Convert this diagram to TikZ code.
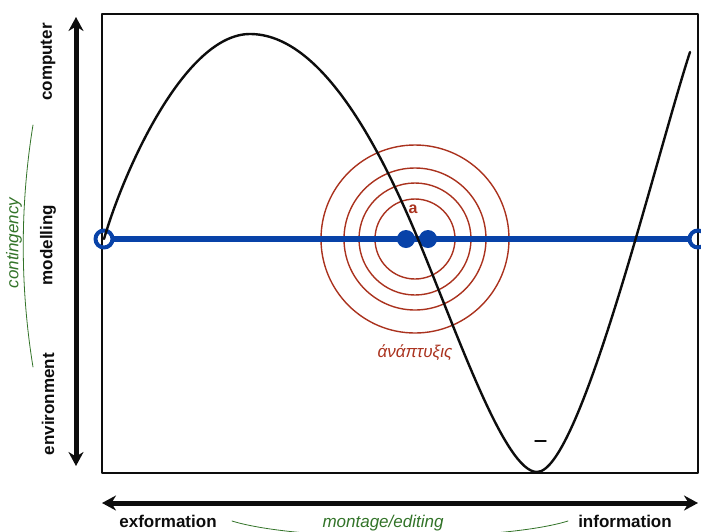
\documentclass[tikz,border=0pt]{standalone}
\usepackage{fontspec}
\setmainfont{Liberation Sans}
\usetikzlibrary{arrows.meta}
\definecolor{SketchInk}{gray}{0.05}
\definecolor{SketchTrack}{RGB}{8,66,168}
\definecolor{SketchRing}{RGB}{170,50,30}
\definecolor{SketchNote}{RGB}{50,115,40}
\tikzset{
    sketch/diagram/.style={
        x=1pt, y=-1pt,
        line cap=round,
        line join=round,
        every node/.style={inner sep=0pt, outer sep=0pt}
    },
    sketch/frame/.style={draw=SketchInk, line width=2pt, line cap=butt},
    sketch/curve/.style={draw=SketchInk, line width=2.4pt},
    sketch/axis/.style={
        draw=SketchInk, line width=5pt, line cap=butt,
        {Stealth[length=14pt, width=15pt]}-{Stealth[length=14pt, width=15pt]}
    },
    sketch/track/.style={draw=SketchTrack, line width=5.5pt, line cap=butt},
    sketch/end/.style={circle, draw=SketchTrack, line width=4pt, minimum size=17pt},
    sketch/dot/.style={circle, fill=SketchTrack, draw=none, minimum size=18pt},
    sketch/ring/.style={draw=SketchRing, line width=1.4pt},
    sketch/note/.style={draw=SketchNote, line width=0.8pt},
    sketch/label/.style={font=\fontsize{17}{20}\selectfont\bfseries, text=SketchInk},
    sketch/remark/.style={font=\fontsize{17}{20}\selectfont\itshape, text=SketchNote},
    sketch/tag/.style={text=SketchRing}
}

\begin{document}
\begin{tikzpicture}[sketch/diagram]
    \useasboundingbox (0,0) rectangle (701,531);
    % frame of the plot
    \draw[sketch/frame] (102,14) rectangle (698,473);
    % axes outside the frame
    \coordinate (axisN) at (76,17);
    \coordinate (axisS) at (76,466);
    \coordinate (axisW) at (102,503);
    \coordinate (axisE) at (698,503);
    \draw[sketch/axis] (axisS) -- (axisN);
    \draw[sketch/axis] (axisW) -- (axisE);
    \node[sketch/label, rotate=90] (computer) at (48,62) {computer};
    \node[sketch/label, rotate=90] (modelling) at (48,245) {modelling};
    \node[sketch/label, rotate=90] (environment) at (48,404) {environment};
    \node[sketch/label, anchor=base] (exformation) at (168,527) {exformation};
    \node[sketch/label, anchor=base] (information) at (625,527) {information};
    % green side notes
    \node[sketch/remark, rotate=90] (contingency) at (14,243) {contingency};
    \draw[sketch/note] (33,125) .. controls (20,205) and (20,287) .. (33,367);
    \node[sketch/remark, anchor=base] (montage) at (383,527) {montage/editing};
    \draw[sketch/note] (232,521) .. controls (300,542) and (500,542) .. (568,521);
    % rings round a
    \coordinate (centre) at (415,239);
    \foreach \r in {40,56,71,94}
        \draw[sketch/ring] (centre) circle[radius=\r pt];
    % blue track
    \node[sketch/end] (trackW) at (104,239) {};
    \node[sketch/end] (trackE) at (698,239) {};
    \draw[sketch/track] (trackW) -- (trackE);
    \node[sketch/dot] (dotW) at (406,239) {};
    \node[sketch/dot] (dotE) at (428,239) {};
    % the wave
    \draw[sketch/curve] (104,239) .. controls (124,170) and (185,34) .. (250,34)
        .. controls (320,34) and (378,143) .. (418,239)
        .. controls (458,335) and (505,472) .. (537,472)
        .. controls (580,472) and (655,160) .. (690,52);
    \draw[draw=SketchInk, line width=1.4pt] (535,441) -- (546,441);
    \node[sketch/tag, font=\fontsize{16}{18}\selectfont\bfseries] (a) at (413,209) {a};
    \node[sketch/tag, font=\fontsize{17}{20}\selectfont\itshape] (anaptyxis) at (415,353) {άνάπτυξις};
\end{tikzpicture}
\end{document}
